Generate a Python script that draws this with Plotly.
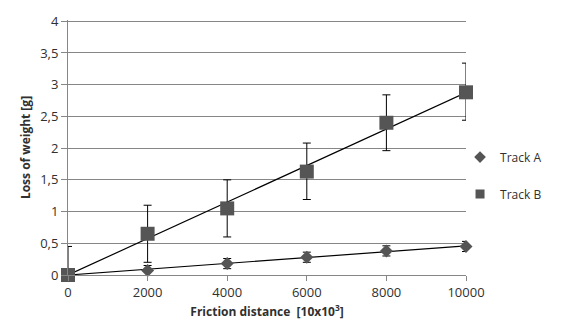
import numpy as np
import plotly.graph_objects as go

distance = [0, 2000, 4000, 6000, 8000, 10000]
track_a = [0.0, 0.07, 0.18, 0.28, 0.38, 0.45]
track_a_err = [0.08, 0.08, 0.08, 0.08, 0.08, 0.08]
track_b = [0.0, 0.65, 1.05, 1.63, 2.40, 2.88]
track_b_err_plus = [0.45, 0.45, 0.45, 0.45, 0.44, 0.46]
track_b_err_minus = [0.0, 0.45, 0.45, 0.44, 0.44, 0.44]
ytick_vals = [0, 0.5, 1, 1.5, 2, 2.5, 3, 3.5, 4]
ytick_text = ["0", "0,5", "1", "1,5", "2", "2,5", "3", "3,5", "4"]
xtick_vals = [0, 2000, 4000, 6000, 8000, 10000]
xtick_text = ["0", "2000", "4000", "6000", "8000", "10000"]

mark_col = "#555555"
font = "Open Sans"
txt = "#303030"

def fit_origin(x, y):
    x = np.array(x, float); y = np.array(y, float)
    return float((x * y).sum() / (x * x).sum())

fig = go.Figure()
for ys in (track_a, track_b):
    k = fit_origin(distance, ys)
    xs = [distance[0], distance[-1]]
    fig.add_trace(go.Scatter(x=xs, y=[k * v for v in xs], mode="lines",
                             line=dict(color="black", width=1.2),
                             showlegend=False, hoverinfo="skip", cliponaxis=False))

fig.add_trace(go.Scatter(x=distance, y=track_a, mode="markers", name="Track A",
                         marker=dict(symbol="diamond", size=10, color=mark_col),
                         error_y=dict(type="data", array=track_a_err, color="black",
                                      thickness=1, width=4),
                         showlegend=False, cliponaxis=False))
fig.add_trace(go.Scatter(x=distance, y=track_b, mode="markers", name="Track B",
                         marker=dict(symbol="square", size=14, color=mark_col),
                         error_y=dict(type="data", array=track_b_err_plus,
                                      arrayminus=track_b_err_minus, color="black",
                                      thickness=1, width=4),
                         showlegend=False, cliponaxis=False))
# legend entries with smaller symbols
fig.add_trace(go.Scatter(x=[None], y=[None], mode="markers", name="Track A",
                         legendgroup="a",
                         marker=dict(symbol="diamond", size=9, color=mark_col)))
fig.add_trace(go.Scatter(x=[None], y=[None], mode="markers", name="Track B",
                         legendgroup="b",
                         marker=dict(symbol="square", size=9, color=mark_col)))

fig.update_layout(
    width=581, height=331,
    margin=dict(l=68, r=115, t=17, b=56),
    paper_bgcolor="white", plot_bgcolor="white",
    font=dict(family=font, size=12, color=txt),
    legend=dict(x=0.985, y=0.39, xanchor="left", yanchor="middle",
                font=dict(size=12, color=txt), itemwidth=30,
                tracegroupgap=18, bgcolor="rgba(0,0,0,0)"),
    xaxis=dict(range=[0, 10000], tickvals=xtick_vals, ticktext=xtick_text,
               ticks="outside", ticklen=5,
               tickcolor="#868686", showline=True, linecolor="#868686", linewidth=1,
               showgrid=False, zeroline=False, tickfont=dict(size=13, color=txt),
               title=dict(text="<b>Friction distance  [10x10<sup>3</sup>]</b>",
                          font=dict(size=12, color=txt), standoff=8)),
    yaxis=dict(range=[0, 4.02], tickvals=ytick_vals, ticktext=ytick_text,
               ticks="outside",
               ticklen=6, tickcolor="#868686", showline=True, linecolor="#868686",
               linewidth=1, showgrid=True, gridcolor="#868686", gridwidth=1,
               zeroline=False, tickfont=dict(size=13, color=txt),
               title=dict(text="<b>Loss of weight [g]</b>",
                          font=dict(size=12, color=txt), standoff=6)),
)

fig.write_html("out.html")
